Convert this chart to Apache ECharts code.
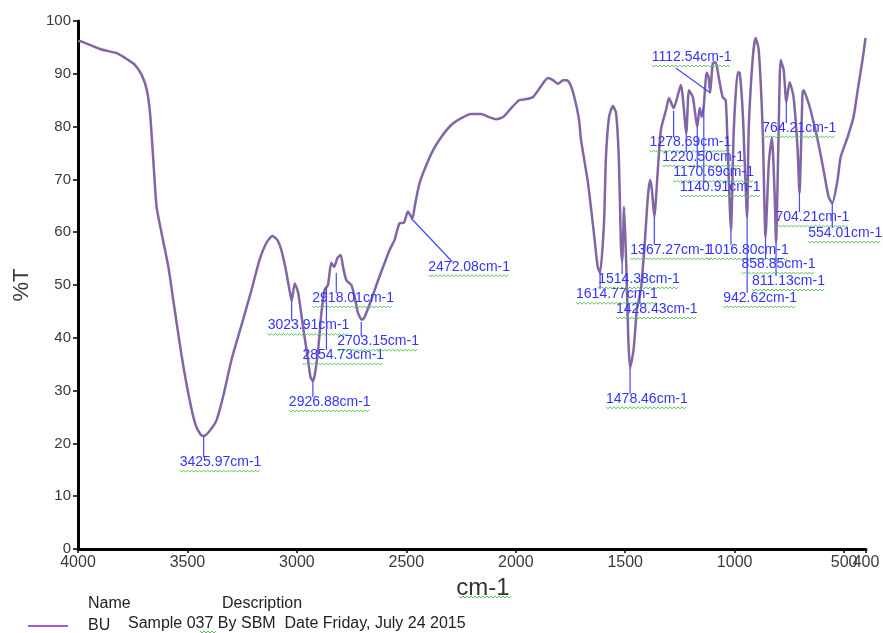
<!DOCTYPE html>
<html><head><meta charset="utf-8">
<script src="https://cdn.jsdelivr.net/npm/echarts@6/dist/echarts.min.js"></script>
<style>html,body{margin:0;padding:0;background:#fff}#chart{width:883px;height:633px}</style>
</head><body><div id="chart"></div>
<script>
// ---- data ----
const wavenumbers = [4000,3983,3892,3823,3770,3740,3709,3686,3671,3656,
3641,3618,3587,3565,3527,3490,3463,3440,3426,3400,
3367,3335,3299,3253,3207,3171,3139,3112,3089,3071,
3052,3034,3024,3010,2994,2972,2949,2938,2927,2917,
2903,2888,2873,2858,2843,2830,2815,2800,2789,2774,
2751,2736,2721,2703,2691,2660,2629,2599,2577,2554,
2531,2511,2493,2472,2462,2447,2435,2409,2377,2341,
2295,2249,2204,2158,2122,2090,2058,2021,1985,1953,
1921,1884,1853,1830,1807,1784,1766,1748,1729,1711,
1702,1670,1643,1626,1615,1597,1588,1574,1556,1542,
1529,1520,1514,1505,1494,1486,1478,1462,1447,1435,
1426,1410,1396,1386,1378,1367,1352,1337,1314,1300,
1279,1246,1221,1209,1191,1171,1160,1150,1141,1128,
1119,1112,1100,1087,1073,1055,1041,1032,1017,1004,
986,977,963,943,936,917,904,890,872,859,
844,830,817,811,799,790,776,764,749,731,
713,704,690,685,667,653,621,594,571,554,
530,516,484,457,438,416,402];
const transmittance = [96.2,96.1,94.6,93.9,92.6,91.7,89.8,87.0,82.6,73.7,
64.8,59.8,53.4,47.2,36.7,28.2,23.5,21.7,21.4,22.3,
24.4,29.2,35.8,42.4,49.1,54.7,58.0,59.3,58.5,56.6,
53.2,49.1,47.0,50.3,48.5,42.1,35.8,32.6,31.8,33.3,
37.7,44.7,49.1,50.0,54.2,53.4,55.1,55.7,53.4,50.9,
50.0,47.7,44.7,43.4,43.9,47.2,50.9,54.2,56.6,58.5,
61.7,61.8,63.9,62.6,64.8,68.0,69.9,72.7,75.6,78.0,
80.3,81.6,82.4,82.4,81.8,81.4,81.8,83.5,85.0,85.2,
85.6,87.7,89.2,88.8,88.1,88.8,88.8,87.7,85.0,81.3,
77.5,69.3,59.8,53.5,52.3,61.7,74.2,81.8,83.9,82.6,
73.7,58.0,54.4,64.8,52.0,40.0,34.3,37.7,45.3,47.7,
50.0,58.5,67.0,69.9,68.0,62.9,71.2,79.4,83.1,85.4,
83.5,87.9,78.8,86.9,85.6,79.9,83.5,81.8,84.0,90.2,
89.4,86.4,92.0,92.2,89.4,85.6,85.0,76.1,60.4,79.4,
90.3,90.2,82.6,62.9,79.4,93.2,96.8,94.5,79.4,59.1,
73.1,78.0,66.7,58.0,79.4,92.6,90.7,84.7,88.4,85.6,
76.1,67.4,86.4,86.9,85.0,83.1,77.5,71.8,66.7,65.5,
69.9,74.2,78.0,81.8,86.9,92.6,96.8];
const xTickValues = [4000,3500,3000,2500,2000,1500,1000,500,400];
const xLabelValues = [4000,3500,3000,2500,2000,1500,1000,500];
const xEndLabelValues = [400];

// peak annotations
const peakLabels = ['3425.97cm-1','3023.91cm-1','2926.88cm-1','2918.01cm-1','2854.73cm-1','2703.15cm-1',
 '2472.08cm-1','1614.77cm-1','1514.38cm-1','1478.46cm-1','1428.43cm-1','1367.27cm-1',
 '1278.69cm-1','1220.50cm-1','1170.69cm-1','1140.91cm-1','1112.54cm-1','1016.80cm-1',
 '942.62cm-1','858.85cm-1','811.13cm-1','764.21cm-1','704.21cm-1','554.01cm-1'];
const peakLineX = [3426,3024,2927,2820,2865,2706,2477,1615,1514,1478,1433,1367,1279,1221,1171,1141,1112,1017,943,859,811,764,704,554];
const peakLineT = [21.4,47.0,31.8,52.3,49.6,43.0,62.6,52.3,54.4,34.3,47.7,62.9,83.0,78.8,79.9,84.0,86.4,60.4,62.9,59.1,58.0,84.7,67.4,65.5];
// where each leader line ends (label anchor)
const labelX = [3426,3024,2927,2820,2865,2706,2290,1615,1514,1478,1433,1367,1279,1221,1171,1141,1269,1017,943,859,811,764,704,554];
const labelT = [17.4,43.3,28.8,48.5,37.7,40.3,54.4,49.2,52.1,29.4,46.4,57.6,78.0,75.2,72.3,69.5,91.1,57.6,48.5,54.9,51.7,80.7,63.8,60.8];

const seriesName = 'BU';
const legendDesc = 'Sample 037 By SBM  Date Friday, July 24 2015';

// ---- styles ----
const FONT = "'Liberation Sans', Arial, sans-serif";
const LABEL_FONT = "14px 'Liberation Sans', Arial, sans-serif";
const measureCtx = document.createElement('canvas').getContext('2d');
function textWidth(t, font){ measureCtx.font = font; return measureCtx.measureText(t).width; }
function squiggle(x0, x1, y){
  const pts = []; let up = true;
  for (let x = x0; x <= x1; x += 2) { pts.push([x, up ? y : y + 2]); up = !up; }
  return pts;
}

const lineData = wavenumbers.map((w, i) => [w, transmittance[i]]);
const annData = peakLabels.map((t, i) => [peakLineX[i], peakLineT[i], labelX[i], labelT[i]]);

const xLabelStyle = {margin: 6, fontFamily: FONT, fontSize: 16, color: '#3a3a3a',
  showMinLabel: true, showMaxLabel: true, hideOverlap: false,
  formatter: function (v) { return String(v); }};

const chart = echarts.init(document.getElementById('chart'), null, {renderer: 'canvas'});
chart.setOption({
  animation: false,
  backgroundColor: '#fff',
  grid: {left: 78, right: 17, top: 21, bottom: 84, outerBoundsMode: 'none'},
  xAxis: [{
    type: 'value', inverse: true, min: 400, max: 4000,
    name: 'cm-1', nameLocation: 'middle', nameGap: 20,
    nameTextStyle: {fontFamily: FONT, fontSize: 24, color: '#333', padding: [0, 0, 0, 22]},
    axisLine: {onZero: false, lineStyle: {color: '#000', width: 3}},
    axisTick: {show: true, length: 4, customValues: xTickValues, lineStyle: {color: '#000', width: 1.5}},
    axisLabel: Object.assign({customValues: xLabelValues}, xLabelStyle),
    splitLine: {show: false}
  }, {
    type: 'value', inverse: true, min: 400, max: 4000, position: 'bottom',
    axisLine: {show: false, onZero: false}, axisTick: {show: false},
    axisLabel: Object.assign({customValues: xEndLabelValues}, xLabelStyle),
    splitLine: {show: false}
  }],
  yAxis: {
    type: 'value', min: 0, max: 100, interval: 10,
    name: '%T', nameLocation: 'middle', nameGap: 45,
    nameTextStyle: {fontFamily: FONT, fontSize: 22, color: '#3a3a3a'},
    axisLine: {show: true, lineStyle: {color: '#000', width: 3}},
    axisTick: {show: true, length: 5, lineStyle: {color: '#000', width: 1.5}},
    axisLabel: {margin: 7, fontFamily: FONT, fontSize: 15, color: '#3a3a3a'},
    splitLine: {show: false}
  },
  legend: {
    left: 28, top: 618, padding: 0, icon: 'rect', itemWidth: 40, itemHeight: 2, selectedMode: false,
    data: [{name: seriesName, itemStyle: {color: '#a55ad6'}}],
    textStyle: {fontFamily: FONT, fontSize: 16, color: '#222', padding: [0, 0, 0, 15]}
  },
  graphic: [
    {type: 'text', left: 88, top: 596, style: {text: 'Name', font: `16px ${FONT}`, fill: '#222'}},
    {type: 'text', left: 222, top: 596, style: {text: 'Description', font: `16px ${FONT}`, fill: '#222'}},
    {type: 'text', left: 128, top: 616, style: {text: legendDesc, font: `16px ${FONT}`, fill: '#222'}},
    {type: 'polyline', shape: {points: squiggle(459, 511, 596)}, style: {stroke: '#58c058', lineWidth: 1, fill: null}},
    {type: 'polyline', shape: {points: squiggle(200, 216, 631)}, style: {stroke: '#58c058', lineWidth: 1, fill: null}}
  ],
  series: [
    {
      name: seriesName, type: 'line', data: lineData, showSymbol: false, smooth: 0.2,
      lineStyle: {color: '#8165a5', width: 2.5}, itemStyle: {color: '#8165a5'}, z: 2
    },
    {
      name: 'peaks', type: 'custom', data: annData, clip: false, z: 3,
      renderItem: function (params, api) {
        const i = params.dataIndex;
        const p0 = api.coord([api.value(0), api.value(1)]);
        const p1 = api.coord([api.value(2), api.value(3)]);
        const text = peakLabels[i];
        const w = textWidth(text, LABEL_FONT);
        const above = p1[1] < p0[1];
        const tx = p1[0] - 24;
        const ty = above ? p1[1] - 18 : p1[1] - 2;
        return {
          type: 'group',
          children: [
            {type: 'line', shape: {x1: p0[0], y1: p0[1], x2: p1[0], y2: p1[1]}, style: {stroke: '#4646ff', lineWidth: 1.2}},
            {type: 'polyline', shape: {points: squiggle(tx, tx + w, ty + 15)}, style: {stroke: '#58c058', lineWidth: 1, fill: null}},
            {type: 'text', x: tx, y: ty, style: {text: text, font: LABEL_FONT, fill: '#3333ff', align: 'left', verticalAlign: 'top'}}
          ]
        };
      }
    }
  ]
});
</script>
</body></html>
